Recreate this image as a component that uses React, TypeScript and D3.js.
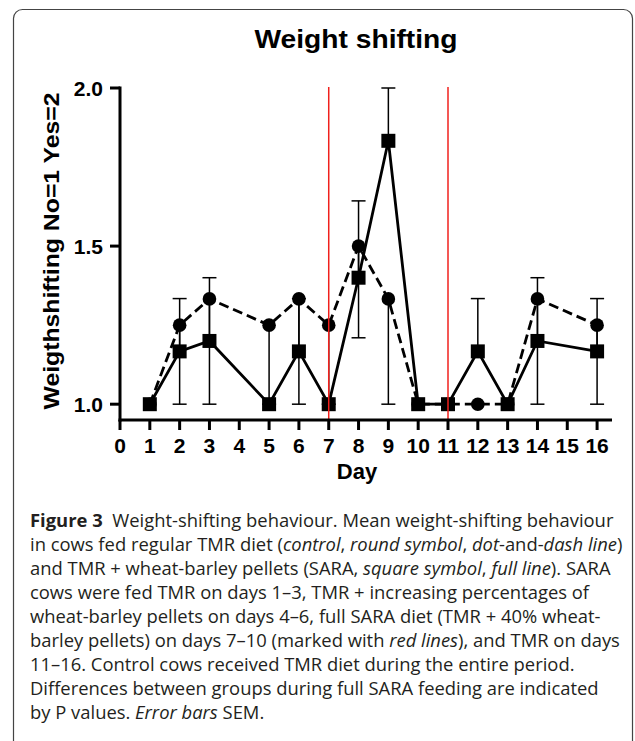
import React from 'react';
import {scaleLinear,line} from 'd3';

// days with data (no points on day 4 and 15)
const days=[1,2,3,5,6,7,8,9,10,11,12,13,14,16];
// control: round symbol, dashed line, error bars downward
const controlMean=[1.0,1.25,1.333,1.25,1.333,1.25,1.5,1.333,1.0,1.0,1.0,1.0,1.333,1.25];
const controlSem=[0,0.25,0.333,0.25,0.333,0.25,0.29,0.333,0,0,0,0,0.333,0.25];
// SARA: square symbol, full line, error bars upward
const saraMean=[1.0,1.167,1.2,1.0,1.167,1.0,1.4,1.833,1.0,1.0,1.167,1.0,1.2,1.167];
const saraSem=[0,0.167,0.2,0,0.167,0,0.243,0.167,0,0,0.167,0,0.2,0.167];

const xTicks=[0,1,2,3,4,5,6,7,8,9,10,11,12,13,14,15,16];
const yTicks=[1.0,1.5,2.0];
const redLineDays=[7,11];

const title="Weight shifting";
const yTitle="Weigthshifting No=1 Yes=2";
const xTitle="Day";

// caption lines: [text, style] segments
const captionLines:[string,string][][]=[
  [["Figure 3","b"],["  Weight-shifting behaviour. Mean weight-shifting behaviour","n"]],
  [["in cows fed regular TMR diet (","n"],["control","i"],[", ","n"],["round symbol","i"],[", ","n"],["dot","i"],["-and-","n"],["dash line","i"],[")","n"]],
  [["and TMR + wheat-barley pellets (SARA, ","n"],["square symbol","i"],[", ","n"],["full line","i"],["). SARA","n"]],
  [["cows were fed TMR on days 1\u20133, TMR + increasing percentages of","n"]],
  [["wheat-barley pellets on days 4\u20136, full SARA diet (TMR + 40% wheat-","n"]],
  [["barley pellets) on days 7\u201310 (marked with ","n"],["red lines","i"],["), and TMR on days","n"]],
  [["11\u201316. Control cows received TMR diet during the entire period.","n"]],
  [["Differences between groups during full SARA feeding are indicated","n"]],
  [["by P values. ","n"],["Error bars","i"],[" SEM.","n"]],
];

const W=635,H=741;

export default function App(){
  const x=scaleLinear().domain([0,16.5]).range([120,612]);
  const y=scaleLinear().domain([0.95,2.0]).range([420,88]);
  const ctrl=days.map((d,i)=>({d,m:controlMean[i],s:controlSem[i]}));
  const sara=days.map((d,i)=>({d,m:saraMean[i],s:saraSem[i]}));
  const lg=line<{d:number,m:number}>().x(p=>x(p.d)).y(p=>y(p.m));
  const cap=7;
  const font="'Liberation Sans', Arial, sans-serif";

  return (
    <svg width={W} height={H} style={{position:'absolute',left:0,top:0,background:'#fff'}}>
      <rect x={13.5} y={9.5} width={619} height={760} rx={9} ry={9} fill="none" stroke="#444" strokeWidth={1.2}/>
      <text x={356} y={48} textAnchor="middle" fontFamily={font} fontWeight="bold" fontSize={26} textLength={203} lengthAdjust="spacingAndGlyphs">{title}</text>

      {/* lines */}
      <path d={lg(ctrl)||''} fill="none" stroke="#000" strokeWidth={2.8} strokeDasharray="10,5"/>
      <path d={lg(sara)||''} fill="none" stroke="#000" strokeWidth={2.8}/>

      {/* error bars */}
      <g stroke="#000" strokeWidth={1.5}>
        {ctrl.filter(p=>p.s>0).map((p,i)=>(
          <g key={'ce'+i}>
            <line x1={x(p.d)} x2={x(p.d)} y1={y(p.m)} y2={y(p.m-p.s)}/>
            <line x1={x(p.d)-cap} x2={x(p.d)+cap} y1={y(p.m-p.s)} y2={y(p.m-p.s)}/>
          </g>
        ))}
        {sara.filter(p=>p.s>0).map((p,i)=>(
          <g key={'se'+i}>
            <line x1={x(p.d)} x2={x(p.d)} y1={y(p.m)} y2={y(p.m+p.s)}/>
            <line x1={x(p.d)-cap} x2={x(p.d)+cap} y1={y(p.m+p.s)} y2={y(p.m+p.s)}/>
          </g>
        ))}
      </g>

      {/* markers */}
      {ctrl.map((p,i)=><circle key={'c'+i} cx={x(p.d)} cy={y(p.m)} r={6.8} fill="#000"/>)}
      {sara.map((p,i)=><rect key={'s'+i} x={x(p.d)-7} y={y(p.m)-7} width={14} height={14} fill="#000"/>)}

      {/* red lines */}
      {redLineDays.map(d=><line key={'r'+d} x1={x(d)} x2={x(d)} y1={y(2.0)-1} y2={y(0.95)} stroke="#f0201c" strokeWidth={1.5}/>)}

      {/* axes */}
      <g stroke="#000" strokeWidth={3}>
        <line x1={x(0)} x2={x(0)} y1={y(2.0)-1.5} y2={y(0.95)+1.5}/>
        <line x1={x(0)-1.5} x2={x(16.5)} y1={y(0.95)} y2={y(0.95)}/>
        {yTicks.map(t=><line key={'yt'+t} x1={x(0)-10} x2={x(0)} y1={y(t)} y2={y(t)}/>)}
        {xTicks.map(t=><line key={'xt'+t} x1={x(t)} x2={x(t)} y1={y(0.95)} y2={y(0.95)+10}/>)}
      </g>
      <g fontFamily={font} fontWeight="bold" fontSize={21}>
        {yTicks.map(t=><text key={'yl'+t} x={103} y={y(t)} dy="0.36em" textAnchor="end">{t.toFixed(1)}</text>)}
        {xTicks.map(t=><text key={'xl'+t} x={x(t)} y={453} textAnchor="middle">{t}</text>)}
      </g>
      <text x={357} y={479} textAnchor="middle" fontFamily={font} fontWeight="bold" fontSize={22}>{xTitle}</text>
      <text transform={`translate(59,${251}) rotate(-90)`} textAnchor="middle" fontFamily={font} fontWeight="bold" fontSize={22} textLength={317} lengthAdjust="spacingAndGlyphs">{yTitle}</text>

      {/* caption */}
      <g fontFamily="'Open Sans', 'Noto Sans', sans-serif" fontSize={18.4} fill="#231f20">
        {captionLines.map((ln,i)=>(
          <text key={'cap'+i} x={30} y={527+i*24}>
            {ln.map((seg,j)=>(
              <tspan key={j} fontWeight={seg[1]==='b'?'bold':'normal'} fontStyle={seg[1]==='i'?'italic':'normal'} xmlSpace="preserve">{seg[0]}</tspan>
            ))}
          </text>
        ))}
      </g>
    </svg>
  );
}
